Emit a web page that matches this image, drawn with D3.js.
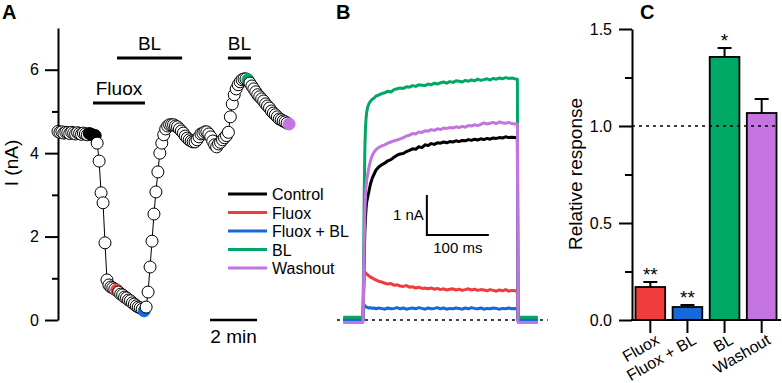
<!DOCTYPE html>
<html>
<head>
<meta charset="utf-8">
<script src="https://cdn.jsdelivr.net/npm/d3@7"></script>
<style>
  body { margin: 0; background: #fff; }
  text { font-family: "Liberation Sans", Arial, sans-serif; fill: #000; }
</style>
</head>
<body>
<svg id="fig" width="782" height="383"></svg>
<script>
// ---------- data ----------
// condition names + colours
const conditions = ["Control", "Fluox", "Fluox + BL", "BL", "Washout"];
const condColors = ["#000000", "#f03c3c", "#1569d8", "#00a865", "#c374e0"];

// Panel A: peak current (nA), one sample every 5 s
const sampleSec = 5;
const peakCurrent = [
  4.52, 4.50, 4.51, 4.48, 4.50, 4.49, 4.47, 4.50, 4.48, 4.46,
  4.49, 4.47, 4.45, 4.48, 4.46, 4.44, 4.47, 4.45, 4.43, 4.42,
  4.24, 3.81, 3.05, 2.81, 1.85, 0.96,
  0.84, 0.79, 0.77, 0.74, 0.72, 0.67, 0.62, 0.60, 0.55, 0.53,
  0.48, 0.46, 0.41, 0.38, 0.34, 0.31, 0.29, 0.26, 0.22, 0.31,
  0.67, 1.27, 1.89, 2.54, 3.07, 3.55, 4.00, 4.24, 4.44, 4.58, 4.65, 4.68, 4.68, 4.68,
  4.65, 4.63, 4.58, 4.53, 4.48, 4.41, 4.36, 4.32, 4.29, 4.27,
  4.27, 4.32, 4.39, 4.46, 4.48, 4.51, 4.51, 4.46, 4.39, 4.29,
  4.20, 4.15, 4.22, 4.26, 4.32, 4.37, 4.42, 4.50,
  4.87, 5.18, 5.40, 5.54, 5.64, 5.71, 5.76, 5.78, 5.78, 5.76,
  5.68, 5.61, 5.54, 5.47, 5.40, 5.35, 5.30, 5.25, 5.18, 5.13,
  5.08, 5.01, 4.96, 4.92, 4.87, 4.82, 4.80, 4.77, 4.75, 4.72, 4.70
];
// sample indices shown in colour (same order as conditions)
const markedSamples = [[16, 17, 18, 19], [30], [44], [97], [118]];

// drug application bars (minutes)
const appNames = ["Fluox", "BL", "BL"];
const appStart = [1.49, 2.51, 7.23];
const appEnd = [3.70, 5.28, 8.21];

// Panel B: current traces (nA) vs time (ms)
const traceTime = [-32, -1, 0, 1, 2, 3, 4, 5, 6, 8, 10, 12, 15, 18, 21, 25,
  30, 35, 40, 45, 50, 55, 60, 65, 70, 75, 80, 85, 90, 95, 100, 105, 110, 115, 120, 125,
  130, 135, 140, 145, 150, 155, 160, 165, 170, 175, 180, 185, 190, 195, 200, 205, 210,
  215, 220, 225, 230, 235, 240, 245, 249, 250, 251, 282];
const traceControl = [0, 0, 0,
  0.8, 1.6, 2.2, 2.55, 2.8, 2.95, 3.1, 3.25, 3.4, 3.55, 3.65, 3.75, 3.82,
  3.88, 3.92, 3.98, 4.01, 4.07, 4.12, 4.15, 4.16, 4.21, 4.24, 4.28, 4.27, 4.33, 4.31, 4.38,
  4.36, 4.41, 4.39, 4.43, 4.42, 4.45, 4.43, 4.46, 4.45, 4.48, 4.46, 4.49, 4.48, 4.51, 4.49,
  4.52, 4.50, 4.53, 4.51, 4.54, 4.52, 4.55, 4.54, 4.56, 4.55, 4.58, 4.56, 4.57, 4.56,
  4.55, 0, 0, 0];
const traceFluox = [0, 0, 0,
  0.6, 1.15, 1.2, 1.18, 1.16, 1.15, 1.12, 1.1, 1.07, 1.05, 1.02, 1.0, 0.97,
  0.95, 0.92, 0.90, 0.91, 0.87, 0.88, 0.85, 0.84, 0.86, 0.82, 0.83, 0.80, 0.82, 0.79, 0.80,
  0.78, 0.80, 0.77, 0.79, 0.76, 0.78, 0.75, 0.77, 0.78, 0.75, 0.77, 0.74, 0.76, 0.78, 0.75,
  0.77, 0.74, 0.76, 0.75, 0.73, 0.76, 0.74, 0.72, 0.75, 0.73, 0.76, 0.72, 0.74, 0.73,
  0.72, 0, 0, 0];
const traceFluoxBL = [0, 0, 0,
  0.25, 0.38, 0.36, 0.34, 0.33, 0.32, 0.31, 0.30, 0.31, 0.29, 0.30, 0.28, 0.30,
  0.29, 0.27, 0.30, 0.28, 0.29, 0.31, 0.28, 0.30, 0.27, 0.29, 0.30, 0.28, 0.31, 0.29, 0.27,
  0.30, 0.28, 0.29, 0.31, 0.28, 0.30, 0.27, 0.29, 0.28, 0.30, 0.29, 0.27, 0.30, 0.28, 0.31,
  0.29, 0.28, 0.30, 0.27, 0.29, 0.28, 0.30, 0.29, 0.27, 0.29, 0.28, 0.30, 0.28, 0.29,
  0.28, 0, 0, 0];
const traceBL = [0.07, 0.07, 0.07,
  1.5, 3.2, 4.3, 4.8, 5.05, 5.2, 5.35, 5.42, 5.47, 5.52, 5.55, 5.6, 5.62,
  5.66, 5.68, 5.72, 5.70, 5.76, 5.78, 5.80, 5.79, 5.83, 5.82, 5.86, 5.84, 5.88, 5.87, 5.86,
  5.90, 5.88, 5.92, 5.90, 5.93, 5.95, 5.92, 5.96, 5.94, 5.98, 5.97, 5.95, 5.99, 5.97, 6.00,
  5.98, 6.02, 5.99, 6.01, 6.03, 6.00, 6.04, 6.02, 6.05, 6.03, 6.06, 6.04, 6.05, 6.03,
  6.02, 0.07, 0.07, 0.07];
const traceWashout = [-0.06, -0.06, -0.06,
  1.0, 2.0, 2.7, 3.1, 3.35, 3.5, 3.68, 3.85, 3.98, 4.12, 4.2, 4.26, 4.31,
  4.35, 4.38, 4.42, 4.45, 4.48, 4.50, 4.53, 4.56, 4.60, 4.62, 4.66, 4.65, 4.70, 4.69, 4.73,
  4.72, 4.76, 4.74, 4.78, 4.76, 4.80, 4.79, 4.81, 4.80, 4.83, 4.81, 4.84, 4.82, 4.86, 4.85,
  4.88, 4.86, 4.89, 4.93, 4.90, 4.92, 4.94, 4.91, 4.95, 4.93, 4.92, 4.94, 4.91, 4.90,
  4.90, -0.06, -0.06, -0.06];

// Panel C: relative response
const barCats = ["Fluox", "Fluox + BL", "BL", "Washout"];
const barMean = [0.17, 0.067, 1.356, 1.067];
const barSem = [0.026, 0.010, 0.046, 0.072];
const barSig = ["**", "**", "*", ""];

// ---------- drawing ----------
const svg = d3.select("#fig");
const colorOf = name => condColors[conditions.indexOf(name)];

function styleAxis(g, w) {
  g.select(".domain").attr("stroke", "#000").attr("stroke-width", w);
  g.selectAll(".tick line").attr("stroke", "#000").attr("stroke-width", w);
  g.selectAll(".tick text").style("font-size", "16px").attr("fill", "#000");
}

// panel letters
[["A", 2], ["B", 336], ["C", 640]].forEach(([l, x]) => {
  svg.append("text").attr("x", x).attr("y", 19)
    .style("font-size", "20px").style("font-weight", "bold").text(l);
});

// ===== Panel A =====
const gA = svg.append("g");
const xA = d3.scaleLinear().domain([0, 10]).range([58, 293]);
const yA = d3.scaleLinear().domain([0, 7]).range([320, 28]);

gA.append("g").attr("transform", "translate(58,0)")
  .call(d3.axisLeft(yA).tickValues([0, 2, 4, 6]).tickFormat(d3.format("d"))
    .tickSize(13).tickSizeOuter(0).tickPadding(6))
  .call(g => styleAxis(g, 2));
gA.append("g").attr("transform", "translate(58,0)")
  .call(d3.axisLeft(yA).tickValues([1, 3, 5]).tickSize(6).tickFormat(""))
  .call(g => { g.select(".domain").remove(); styleAxis(g, 2); });

gA.append("text")
  .attr("transform", "translate(18,163) rotate(-90)")
  .attr("text-anchor", "middle").style("font-size", "19px").text("I (nA)");

const ptsA = peakCurrent.map((v, i) => {
  let k = markedSamples.findIndex(s => s.includes(i));
  return { t: i * sampleSec / 60, v: v, c: k < 0 ? null : condColors[k] };
});

gA.append("path").datum(ptsA)
  .attr("fill", "none").attr("stroke", "#000").attr("stroke-width", 1)
  .attr("d", d3.line().x(d => xA(d.t)).y(d => yA(d.v)));

gA.selectAll("circle.pt").data(ptsA).join("circle")
  .attr("class", "pt")
  .attr("cx", d => xA(d.t)).attr("cy", d => yA(d.v)).attr("r", 6)
  .attr("fill", d => d.c || "#fff")
  .attr("stroke", d => d.c && d.c !== "#000000" ? d.c : "#000")
  .attr("stroke-width", 1);

// drug bars
const appLevel = [5.2, 6.28, 6.28];
appNames.forEach((n, i) => {
  gA.append("line")
    .attr("x1", xA(appStart[i])).attr("x2", xA(appEnd[i]))
    .attr("y1", yA(appLevel[i])).attr("y2", yA(appLevel[i]))
    .attr("stroke", "#000").attr("stroke-width", 3);
  gA.append("text")
    .attr("x", (xA(appStart[i]) + xA(appEnd[i])) / 2).attr("y", yA(appLevel[i]) - 8)
    .attr("text-anchor", "middle").style("font-size", "19px").text(n);
});

// time scale bar: 2 min
gA.append("line")
  .attr("x1", xA(6.47)).attr("x2", xA(8.47)).attr("y1", yA(0)).attr("y2", yA(0))
  .attr("stroke", "#000").attr("stroke-width", 2.5);
gA.append("text").attr("x", xA(7.47)).attr("y", 343)
  .attr("text-anchor", "middle").style("font-size", "19px").text("2 min");

// legend
const lg = gA.append("g");
conditions.forEach((c, i) => {
  const y = 194 + i * 18.5;
  lg.append("line").attr("x1", 228).attr("x2", 267).attr("y1", y).attr("y2", y)
    .attr("stroke", condColors[i]).attr("stroke-width", 3);
  lg.append("text").attr("x", 272).attr("y", y + 6)
    .style("font-size", "16px").text(c);
});

// ===== Panel B =====
const gB = svg.append("g");
const xB = d3.scaleLinear().domain([0, 100]).range([363, 425]);
const yB = d3.scaleLinear().domain([0, 1]).range([320, 280]);

gB.append("line")
  .attr("x1", xB(-42)).attr("x2", xB(298)).attr("y1", yB(0)).attr("y2", yB(0))
  .attr("stroke", "#000").attr("stroke-width", 1.5).attr("stroke-dasharray", "3,4");

const traces = [traceControl, traceFluox, traceFluoxBL, traceBL, traceWashout];
const lineB = d3.line().x((d, i) => xB(traceTime[i])).y(d => yB(d));
traces.forEach((tr, k) => {
  gB.append("path").datum(tr)
    .attr("fill", "none").attr("stroke", condColors[k]).attr("stroke-width", 3)
    .attr("stroke-linejoin", "round")
    .attr("d", lineB);
});

// scale bar: 1 nA, 100 ms
gB.append("path")
  .attr("d", `M${xB(103)},${yB(3.125)} V${yB(2.125)} H${xB(203)}`)
  .attr("fill", "none").attr("stroke", "#000").attr("stroke-width", 2);
gB.append("text").attr("x", xB(103) - 3).attr("y", 220)
  .attr("text-anchor", "end").style("font-size", "15px").text("1 nA");
gB.append("text").attr("x", xB(153)).attr("y", 253)
  .attr("text-anchor", "middle").style("font-size", "15px").text("100 ms");

// ===== Panel C =====
const gC = svg.append("g");
const xC = d3.scaleBand().domain(barCats).range([634, 778]).paddingInner(0.2).paddingOuter(0.04);
const yC = d3.scaleLinear().domain([0, 1.5]).range([320, 29]);

gC.selectAll("rect.bar").data(barCats).join("rect")
  .attr("class", "bar")
  .attr("x", d => xC(d)).attr("width", xC.bandwidth())
  .attr("y", (d, i) => yC(barMean[i])).attr("height", (d, i) => yC(0) - yC(barMean[i]))
  .attr("fill", d => colorOf(d)).attr("stroke", "#000").attr("stroke-width", 1.8);

// error bars
barCats.forEach((c, i) => {
  const cx = xC(c) + xC.bandwidth() / 2;
  const top = yC(barMean[i] + barSem[i]);
  gC.append("path")
    .attr("d", `M${cx},${yC(barMean[i])} V${top} M${cx - 7},${top} H${cx + 7}`)
    .attr("stroke", "#000").attr("stroke-width", 2).attr("fill", "none");
  if (barSig[i]) {
    gC.append("text").attr("x", cx).attr("y", top - 1)
      .attr("text-anchor", "middle").style("font-size", "19px").text(barSig[i]);
  }
});

// reference line at 1.0
gC.append("line")
  .attr("x1", 632).attr("x2", 777).attr("y1", yC(1)).attr("y2", yC(1))
  .attr("stroke", "#000").attr("stroke-width", 1.5).attr("stroke-dasharray", "3,4");

gC.append("g").attr("transform", "translate(632,0)")
  .call(d3.axisLeft(yC).tickValues([0, 0.5, 1, 1.5]).tickFormat(d3.format(".1f"))
    .tickSize(13).tickSizeOuter(0).tickPadding(7))
  .call(g => styleAxis(g, 2));
gC.append("g").attr("transform", "translate(632,0)")
  .call(d3.axisLeft(yC).tickValues([0.25, 0.75, 1.25]).tickSize(7).tickFormat(""))
  .call(g => { g.select(".domain").remove(); styleAxis(g, 2); });

// x axis
gC.append("line").attr("x1", 631).attr("x2", 781).attr("y1", yC(0)).attr("y2", yC(0))
  .attr("stroke", "#000").attr("stroke-width", 2);
gC.append("g").attr("transform", `translate(0,${yC(0)})`)
  .call(d3.axisBottom(xC).tickSize(13).tickSizeOuter(0).tickFormat(""))
  .call(g => { g.select(".domain").remove(); styleAxis(g, 2); });

barCats.forEach(c => {
  const cx = xC(c) + xC.bandwidth() / 2;
  gC.append("text")
    .attr("transform", `translate(${cx + 10},343) rotate(-30)`)
    .attr("text-anchor", "end").style("font-size", "16px").text(c);
});

gC.append("text")
  .attr("transform", "translate(582,174) rotate(-90)")
  .attr("text-anchor", "middle").style("font-size", "19px").text("Relative response");
</script>
</body>
</html>
